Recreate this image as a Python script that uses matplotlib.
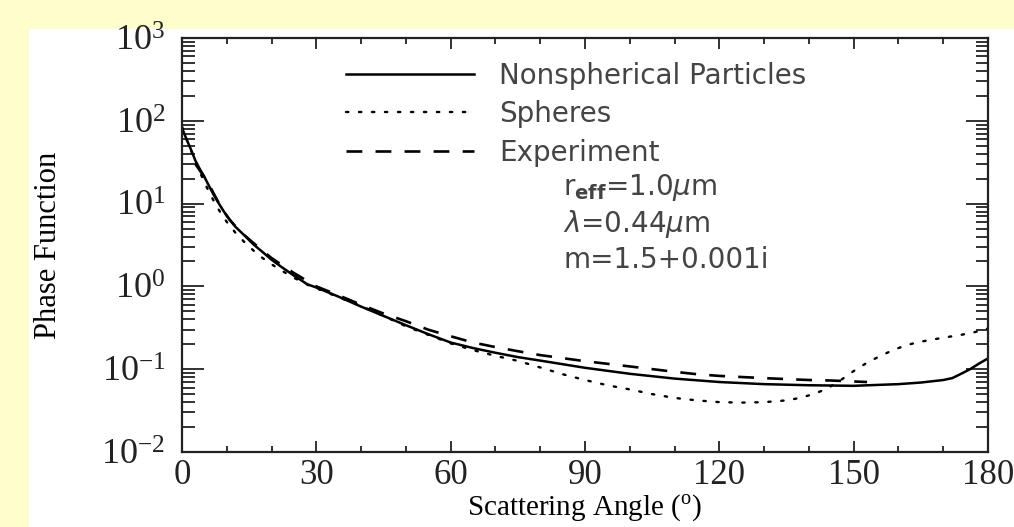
import numpy as np
import matplotlib
matplotlib.use("Agg")
import matplotlib.pyplot as plt
from matplotlib.patches import Rectangle
from matplotlib.ticker import FixedLocator, LogLocator, FuncFormatter, NullFormatter

# scattering angle (deg) and phase function values
ang_ns = [0, 1, 2, 3, 4, 5, 6, 7, 8, 9, 10, 12, 14, 16, 18, 20, 22, 25, 28,
          30, 35, 40, 45, 50, 55, 60, 65, 70, 75, 80, 90, 100, 110, 120, 130,
          140, 150, 160, 165, 170, 172, 174, 176, 178, 180]
pf_ns = [82, 60, 45, 33, 26, 21, 16.5, 13, 10.5, 8.6, 7.1, 5.2, 4.1, 3.2, 2.6,
         2.1, 1.75, 1.35, 1.06, 0.97, 0.75, 0.57, 0.44, 0.34, 0.265, 0.21,
         0.18, 0.158, 0.14, 0.127, 0.104, 0.088, 0.077, 0.07, 0.066, 0.064,
         0.063, 0.066, 0.069, 0.074, 0.078, 0.088, 0.1, 0.117, 0.135]

ang_sph = [0, 1, 2, 3, 4, 5, 6, 7, 8, 9, 10, 12, 14, 16, 18, 20, 22, 25, 28,
           30, 35, 40, 45, 50, 55, 60, 65, 70, 75, 80, 85, 90, 95, 100, 105,
           110, 115, 120, 125, 130, 135, 138, 141, 144, 147, 150, 153, 156,
           159, 162, 165, 168, 171, 174, 177, 180]
pf_sph = [85, 60, 44, 32, 24, 18, 14, 11, 8.8, 7.2, 6, 4.4, 3.4, 2.7, 2.2,
          1.85, 1.58, 1.27, 1.05, 0.95, 0.74, 0.58, 0.44, 0.33, 0.26, 0.205,
          0.17, 0.145, 0.126, 0.105, 0.087, 0.074, 0.064, 0.057, 0.05, 0.045,
          0.042, 0.040, 0.0395, 0.040, 0.042, 0.045, 0.05, 0.058, 0.073,
          0.095, 0.12, 0.145, 0.172, 0.197, 0.215, 0.23, 0.245, 0.26, 0.28,
          0.31]

ang_exp = [3, 4, 5.5, 7, 8.5, 10.7, 13, 15, 18, 20, 25, 30, 35, 40, 45, 50,
           55, 60, 65, 70, 75, 80, 85, 90, 100, 110, 115, 120, 130, 140, 145,
           153]
pf_exp = [30, 25, 19.3, 13.5, 9.5, 6.3, 4.6, 3.7, 2.7, 2.2, 1.45, 1.0, 0.78,
          0.6, 0.47, 0.38, 0.3, 0.25, 0.21, 0.185, 0.165, 0.148, 0.136, 0.125,
          0.108, 0.093, 0.087, 0.083, 0.078, 0.074, 0.073, 0.07]

labels = ["Nonspherical Particles", "Spheres", "Experiment"]
notes = [r"r$_{\mathbf{eff}}$=1.0$\mu$m", r"$\lambda$=0.44$\mu$m",
         "m=1.5+0.001i"]
xticks = [0, 30, 60, 90, 120, 150, 180]

W, H = 1014, 527
fig = plt.figure(figsize=(W / 100, H / 100), dpi=100)
fig.patch.set_facecolor("#fefdcc")
fig.patches.append(Rectangle((29 / W, 0), 1 - 29 / W, 1 - 29 / H,
                             transform=fig.transFigure, facecolor="white",
                             edgecolor="none", zorder=0))

ax = fig.add_axes([182 / W, 1 - 452 / H, (988 - 182) / W, (452 - 38) / H])
ax.set_zorder(1)

ax.plot(ang_ns, pf_ns, color="black", lw=1.8, label=labels[0])
ax.plot(ang_sph, pf_sph, color="black", lw=1.7, ls=(0, (1, 4.5)),
        dash_capstyle="round", label=labels[1])
ax.plot(ang_exp, pf_exp, color="black", lw=1.9, ls=(0, (6, 5)),
        label=labels[2])

ax.set_yscale("log")
ax.set_xlim(0, 180)
ax.set_ylim(1e-2, 1e3)

serif = "Liberation Serif"
ax.xaxis.set_major_locator(FixedLocator(xticks))
ax.xaxis.set_minor_locator(FixedLocator(np.arange(0, 181, 10)))
ax.yaxis.set_major_locator(LogLocator(base=10))
ax.yaxis.set_minor_locator(LogLocator(base=10, subs=np.arange(2, 10)))
ax.yaxis.set_minor_formatter(NullFormatter())
ax.yaxis.set_major_formatter(
    FuncFormatter(lambda v, p: r"$\mathregular{10^{%d}}$" % round(np.log10(v))))
ax.tick_params(which="both", direction="in", top=True, right=True,
               colors="#222222", width=1.3)
ax.tick_params(axis="x", which="major", length=8, pad=5, labelsize=25)
ax.tick_params(axis="x", which="minor", length=4)
ax.tick_params(axis="y", which="major", length=16, pad=12, labelsize=26)
ax.tick_params(axis="y", which="minor", length=9)
for lab in ax.get_xticklabels() + ax.get_yticklabels():
    lab.set_family(serif)
for s in ax.spines.values():
    s.set_linewidth(1.6)
    s.set_color("#222222")

ax.set_xlabel("Scattering Angle ($^{\\mathregular{o}}$)", family=serif,
              fontsize=21, labelpad=1)
ax.set_ylabel("Phase Function", family=serif, fontsize=22, labelpad=28)

leg = ax.legend(loc="upper left", bbox_to_anchor=(0.19, 0.97), frameon=False,
                fontsize=20, handlelength=4.6, handletextpad=0.9,
                labelspacing=0.38, borderaxespad=0)
for t in leg.get_texts():
    t.set_color("#444444")

for i, s in enumerate(notes):
    ax.text(0.473, 0.638 - 0.087 * i, s, transform=ax.transAxes, fontsize=20,
            color="#444444", va="center", ha="left")

fig.savefig("out.png", dpi=100, facecolor=fig.get_facecolor())
